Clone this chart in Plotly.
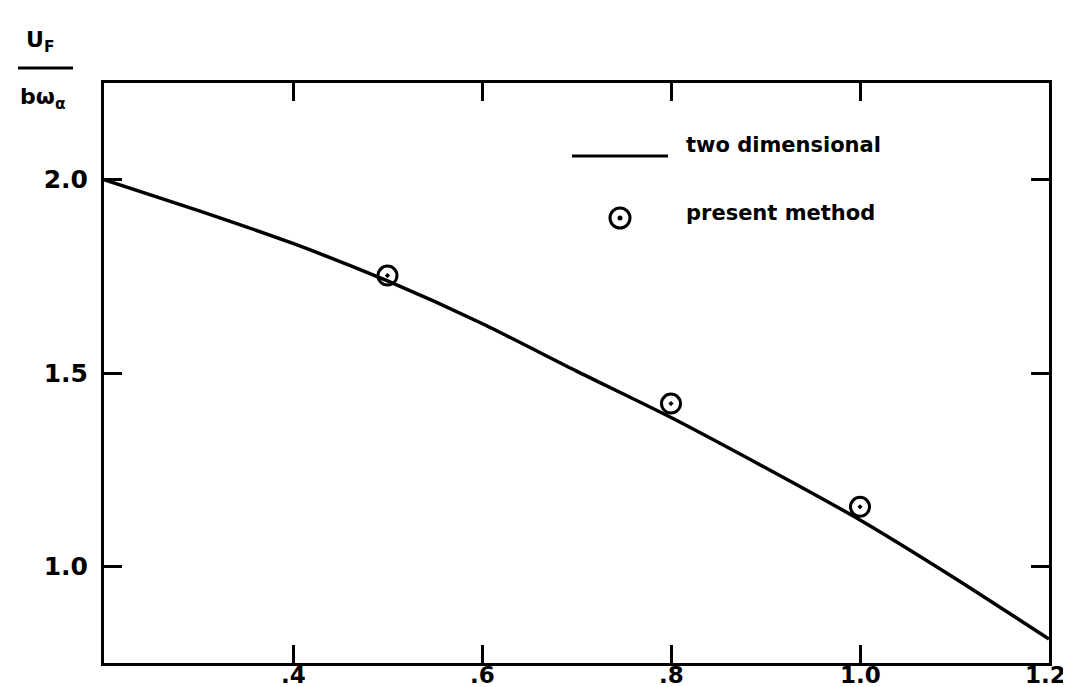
import plotly.graph_objects as go

# ---- data ----
curve_x = [0.2, 0.3, 0.4, 0.5, 0.6, 0.7, 0.8, 0.9, 1.0, 1.1, 1.2]
curve_y = [2.00, 1.92, 1.835, 1.738, 1.628, 1.505, 1.385, 1.255, 1.12, 0.97, 0.812]
pts_x = [0.5, 0.8, 1.0]
pts_y = [1.752, 1.421, 1.154]
xtick_vals = [0.4, 0.6, 0.8, 1.0, 1.2]
xtick_text = [".4", ".6", ".8", "1.0", "1.2"]
ytick_vals = [1.0, 1.5, 2.0]
ytick_text = ["1.0", "1.5", "2.0"]
legend_labels = ["two dimensional", "present method"]

W, H = 1071, 687
L, R, T, B = 96, 30, 75, 32
PW, PH = W - L - R, H - T - B

def px(x):
    return (x - L) / PW

def py(y):
    return (H - B - y) / PH

FONT = "DejaVu Sans"

fig = go.Figure()
fig.add_trace(go.Scatter(x=curve_x, y=curve_y, mode="lines",
                         line=dict(color="black", width=3.5, shape="spline", smoothing=0.6),
                         showlegend=False, hoverinfo="skip"))
fig.add_trace(go.Scatter(x=pts_x, y=pts_y, mode="markers",
                         marker=dict(symbol="circle-open-dot", size=19, color="black",
                                     line=dict(color="black", width=3)),
                         showlegend=False))

axis_common = dict(showgrid=False, zeroline=False, showline=True, linecolor="black",
                   linewidth=3, mirror="ticks", ticks="inside", ticklen=18, tickwidth=3,
                   tickcolor="black", automargin=False)

fig.update_xaxes(range=[0.2, 1.2], tickvals=xtick_vals, showticklabels=False, **axis_common)
fig.update_yaxes(range=[0.75, 2.25], tickvals=ytick_vals, ticktext=ytick_text,
                 ticklabelstandoff=8,
                 tickfont=dict(family=FONT, size=25, color="black", weight="bold"),
                 **axis_common)

shapes = [
    # legend line sample
    dict(type="line", xref="paper", yref="paper", x0=px(564), x1=px(660), y0=py(148), y1=py(148),
         line=dict(color="black", width=3)),
    # legend marker sample
    dict(type="circle", xref="paper", yref="paper", x0=px(602), x1=px(622), y0=py(220), y1=py(200),
         line=dict(color="black", width=3)),
    dict(type="circle", xref="paper", yref="paper", x0=px(609.5), x1=px(614.5), y0=py(212.5), y1=py(207.5),
         fillcolor="black", line=dict(color="black", width=0)),
    # fraction bar of y title
    dict(type="line", xref="paper", yref="paper", x0=px(10), x1=px(65), y0=py(60), y1=py(60),
         line=dict(color="black", width=3)),
]

annotations = [
    dict(text=legend_labels[0], xref="paper", yref="paper", x=px(676), y=py(137),
         xanchor="left", yanchor="middle", showarrow=False,
         font=dict(family=FONT, size=21, color="black", weight="bold")),
    dict(text=legend_labels[1], xref="paper", yref="paper", x=px(676), y=py(205),
         xanchor="left", yanchor="middle", showarrow=False,
         font=dict(family=FONT, size=21, color="black", weight="bold")),
    dict(text="U<sub>F</sub>", xref="paper", yref="paper", x=px(16), y=py(34),
         xanchor="left", yanchor="middle", showarrow=False,
         font=dict(family=FONT, size=22, color="black", weight="bold")),
    dict(text="bω<sub>α</sub>", xref="paper", yref="paper", x=px(10), y=py(90),
         xanchor="left", yanchor="middle", showarrow=False,
         font=dict(family=FONT, size=22, color="black", weight="bold")),
]

# x tick labels placed just below the axis so they fit the page
for v, t in zip(xtick_vals, xtick_text):
    annotations.append(dict(text=t, xref="x", yref="paper", x=v, y=py(682),
                            xanchor="center", yanchor="bottom", showarrow=False,
                            xshift=-4 if t == "1.2" else 0,
                            font=dict(family=FONT, size=23, color="black", weight="bold")))

fig.update_layout(width=W, height=H, margin=dict(l=L, r=R, t=T, b=B, autoexpand=False),
                  paper_bgcolor="white", plot_bgcolor="white", template="none",
                  shapes=shapes, annotations=annotations, showlegend=False)

fig.write_html("out.html")
